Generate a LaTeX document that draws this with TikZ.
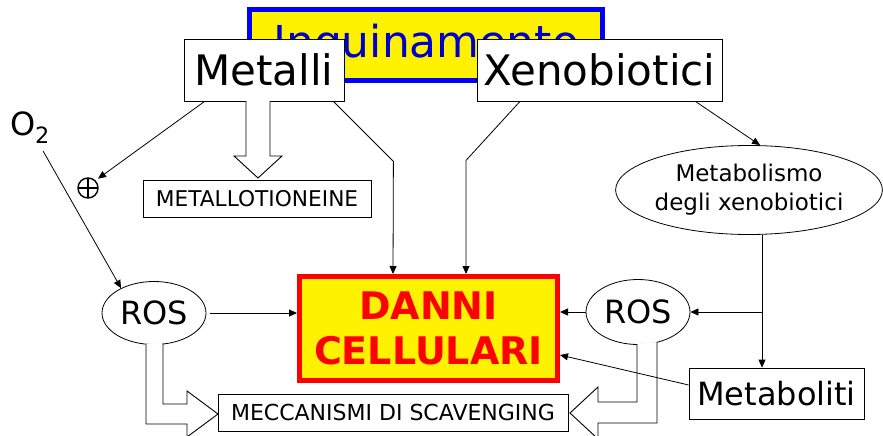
\documentclass[tikz,border=0pt]{standalone}
\usepackage{fontspec}
\setmainfont{DejaVu Sans}
\usetikzlibrary{arrows.meta, shapes.geometric}

\begin{document}
\begin{tikzpicture}[x=1pt, y=-1pt, >={Triangle[length=8pt, width=7pt]}, line width=0.8pt,
    box/.style={draw=black, fill=white, inner sep=0pt},
    oval/.style={ellipse, draw=black, fill=white, inner sep=0pt},
    hollow/.style={draw=black, fill=white, line width=0.9pt},
    oplus/.style={circle, draw=black, line width=1.4pt, minimum size=20pt, inner sep=0pt,
      path picture={\draw[line width=1.4pt] (path picture bounding box.north) -- (path picture bounding box.south)
        (path picture bounding box.west) -- (path picture bounding box.east);}}
  ]
  \useasboundingbox (0,0) rectangle (883,436);

  % Title box, partly covered by the two source boxes
  \node[draw=blue, line width=5pt, fill=yellow, text=blue!80!black, minimum width=353pt, minimum height=71pt,
        font=\fontsize{44}{48}\selectfont] (inq) at (426,45) {Inquinamento};

  % Sources
  \node[box, minimum width=160pt, minimum height=62pt, font=\fontsize{42}{46}\selectfont] (met) at (264,70) {Metalli};
  \node[box, minimum width=245pt, minimum height=62pt, font=\fontsize{42}{46}\selectfont] (xeno) at (599.5,70) {Xenobiotici};

  % Left side
  \node[font=\fontsize{32}{36}\selectfont] (ox) at (30,128) {O\textsubscript{2}};
  \node[oplus] (plus) at (88,188) {};
  \node[box, minimum width=228pt, minimum height=37pt, font=\fontsize{21.7}{24}\selectfont] (mtn) at (257,198.5) {METALLOTIONEINE};
  \node[oval, minimum width=104pt, minimum height=63pt, font=\fontsize{32}{36}\selectfont] (rosl) at (154,313) {ROS};

  % Centre
  \node[draw=red, line width=5pt, fill=yellow, text=red, minimum width=258pt, minimum height=104pt, align=center,
        font=\fontsize{38}{45}\selectfont\bfseries] (danni) at (428.5,328.5) {DANNI\\CELLULARI};
  \node[box, minimum width=350pt, minimum height=37pt, font=\fontsize{22}{24}\selectfont] (scav) at (393,412.5) {MECCANISMI DI SCAVENGING};

  % Right side
  \node[oval, minimum width=264pt, minimum height=89pt, align=center, font=\fontsize{23}{29}\selectfont] (metab) at (749,190)
       {Metabolismo\\degli xenobiotici};
  \node[oval, minimum width=104pt, minimum height=65pt, font=\fontsize{32}{36}\selectfont] (rosr) at (638,312) {ROS};
  \node[box, minimum width=175pt, minimum height=51pt, font=\fontsize{32}{36}\selectfont] (metaboliti) at (776.5,393.5) {Metaboliti};
  \coordinate (split) at ([xshift=13pt]metab.south);

  % Arrows
  \draw[->, shorten >=3pt] ([xshift=21pt]met.south west) -- (plus.north east);
  \draw[->] ([xshift=-11pt]met.south east) -- ++(60,60) -- ([xshift=-35.5pt]danni.north);
  \draw[->] ([xshift=-79.5pt]xeno.south) -- ++(-54,59) -- ([xshift=37.5pt]danni.north);
  \draw[->] ([xshift=-27pt]xeno.south east) -- ([xshift=11pt]metab.north);
  \draw[->, shorten <=4pt] (ox) -- (rosl.143);
  \draw[->, shorten <=4pt] (rosl.east) -- (rosl.east -| danni.west);
  \draw[->] (rosr.west) -- (rosr.west -| danni.east);
  \draw[->] (split) -- (split |- metaboliti.north);
  \draw[->] (split |- rosr.east) -- (rosr.east);

  % Broad arrows
  \draw[hollow] (246,101) -- (246,156) -- (234,156) -- (258,178) -- (282,156) -- (270,156) -- (270,101);
  \draw[hollow] (146,344) -- (146,424) -- (187,424) -- (187,437) -- (218,414) -- (187,391) -- (187,404)
    -- (163,404) -- (163,343);
  \draw[hollow] (637,344) -- (637,402) -- (598,402) -- (598,387) -- (570,413) -- (598,439) -- (598,423)
    -- (657,423) -- (657,342);

  \draw[->] ([yshift=8.5pt]metaboliti.west) -- ([yshift=-26.5pt]danni.east);
\end{tikzpicture}
\end{document}
